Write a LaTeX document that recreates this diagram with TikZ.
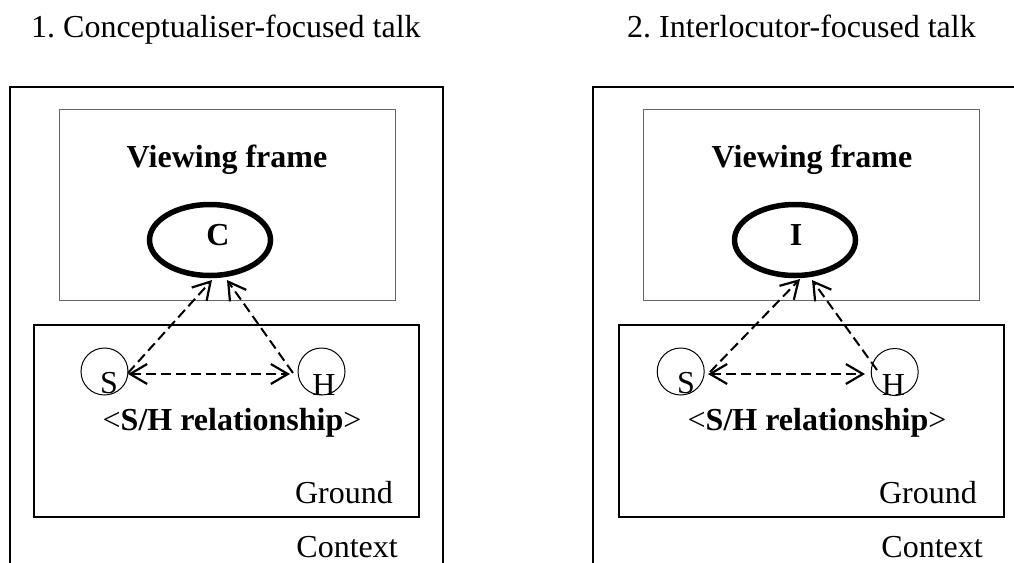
\documentclass[tikz,border=0pt]{standalone}
\usepackage{fontspec}
\setmainfont{Liberation Serif}
\usetikzlibrary{arrows.meta,shapes.geometric}
\begin{document}
\frenchspacing
\begin{tikzpicture}[x=1pt,y=-1pt,
  txt/.style={inner sep=0pt, font=\fontsize{32}{38}\selectfont},
  btxt/.style={inner sep=0pt, font=\fontsize{32}{38}\selectfont\bfseries},
  ctxbox/.style={draw, line width=1.6pt},
  vfbox/.style={draw=black!60, line width=1pt},
  gbox/.style={draw, line width=1.4pt},
  focus/.style={draw, ellipse, line width=5.5pt, inner sep=0pt, minimum width=121pt, minimum height=71pt},
  party/.style={draw, circle, line width=1pt, inner sep=0pt, minimum size=47pt},
  link/.style={line width=2pt, dash pattern=on 10pt off 5pt},
  >={Straight Barb[length=17pt,width=20pt,line width=2.2pt]}
]
\useasboundingbox (0,0) rectangle (1014,562);

% titles
\node[txt, anchor=base west] (t1) at (31,37) {1. Conceptualiser-focused talk};
\node[txt, anchor=base west] (t2) at (627,37) {2. Interlocutor-focused talk};

% ---------- left panel ----------
\draw[ctxbox] (10,565) -- (10,87) -- (443,87) -- (443,565);
\draw[vfbox] (59,109) rectangle (395,300);
\draw[gbox] (34,325) rectangle (419,517);
\node[btxt, anchor=base] (vf1) at (227,167) {Viewing frame};
\node[focus] (C1) at (210,240) {};
\node[btxt, anchor=base] (C1l) at (218,245) {C};
\node[party] (S1) at (104.5,371.5) {};
\node[party] (H1) at (321.5,371.5) {};
\node[txt, anchor=base] (S1l) at (109,393) {S};
\node[txt, anchor=base] (H1l) at (324,395) {H};
\node[txt, anchor=base] (rel1) at (232,430) {<\textbf{S/H relationship}>};
\node[txt, anchor=base east] (g1) at (393,503) {Ground};
\node[txt, anchor=base east] (ctx1) at (398,557) {Context};

\coordinate (C1a) at (212,280);
\coordinate (C1b) at (227,280);
\coordinate (S1d) at (128,373);
\coordinate (H1d) at (293,373);
\coordinate (S1h) at (128,374);
\coordinate (H1h) at (290,374);
\draw[link,->] (S1d) -- (C1a);
\draw[link,->] (H1d) -- (C1b);
\draw[link,<->] (S1h) -- (H1h);

% ---------- right panel ----------
\draw[ctxbox] (593,565) -- (593,87) -- (1016,87);
\draw[vfbox] (643,109) rectangle (979,300);
\draw[gbox] (619,325) rectangle (1004,517);
\node[btxt, anchor=base] (vf2) at (812,167) {Viewing frame};
\node[focus] (I2) at (795,240) {};
\node[btxt, anchor=base] (I2l) at (796,245) {I};
\node[party] (S2) at (680.7,371.5) {};
\node[party] (H2) at (894.7,372) {};
\node[txt, anchor=base] (S2l) at (686,393) {S};
\node[txt, anchor=base] (H2l) at (893.5,395) {H};
\node[txt, anchor=base] (rel2) at (817,430) {<\textbf{S/H relationship}>};
\node[txt, anchor=base east] (g2) at (977,503) {Ground};
\node[txt, anchor=base east] (ctx2) at (983,557) {Context};

\coordinate (I2a) at (800,279);
\coordinate (I2b) at (812,280);
\coordinate (S2d) at (710,372);
\coordinate (H2d) at (877,370);
\coordinate (S2h) at (708,374);
\coordinate (H2h) at (865,374);
\draw[link,->] (S2d) -- (I2a);
\draw[link,->] (H2d) -- (I2b);
\draw[link,<->] (S2h) -- (H2h);
\end{tikzpicture}
\end{document}
